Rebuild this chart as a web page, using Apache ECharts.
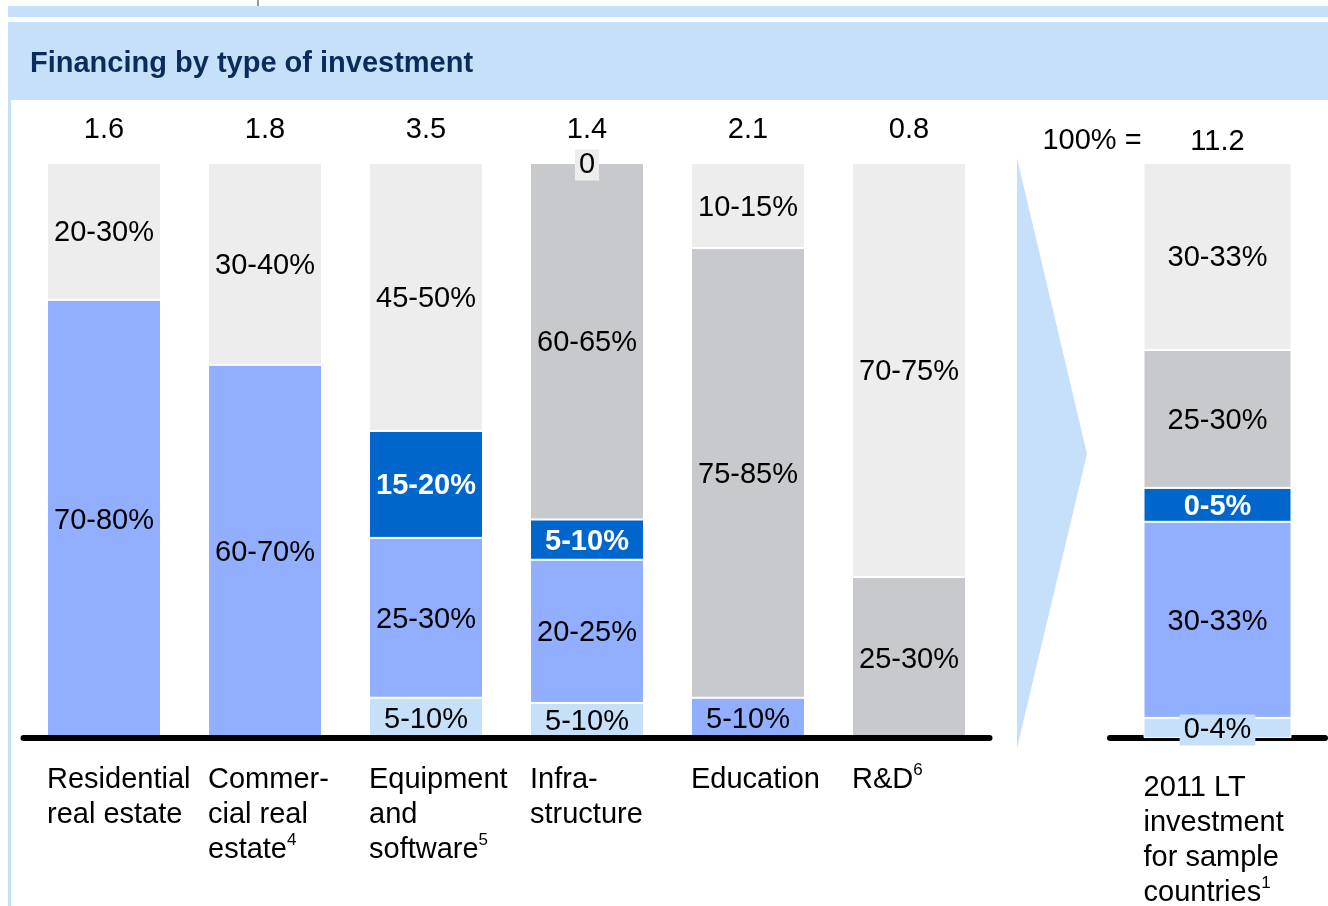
<!DOCTYPE html>
<html>
<head>
<meta charset="utf-8">
<script src="https://cdn.jsdelivr.net/npm/echarts@6/dist/echarts.min.js"></script>
<style>
  html, body { margin: 0; padding: 0; background: #fff; }
  #main { width: 1328px; height: 906px; }
</style>
</head>
<body>
<div id="main"></div>
<script>
// categories + totals (bn), shares in % of each bar
const categories = ['Residential\nreal estate', 'Commer-\ncial real\nestate{s|4}', 'Equipment\nand\nsoftware{s|5}', 'Infra-\nstructure', 'Education', 'R&D{s|6}'];
const totals = ['1.6', '1.8', '3.5', '1.4', '2.1', '0.8'];

const lightBlue = [null, null, 7.0, 6.1, null, null];
const medBlue = [76.2, 64.9, 27.8, 24.9, 7.0, null];
const darkBlue = [null, null, 18.6, 7.0, null, null];
const gray = [null, null, null, 62.0, 78.2, 28.0];
const lightGray = [23.8, 35.1, 46.6, 0, 14.8, 72.0];

const lightBlueLbl = ['', '', '5-10%', '5-10%', '', ''];
const medBlueLbl = ['70-80%', '60-70%', '25-30%', '20-25%', '5-10%', ''];
const darkBlueLbl = ['', '', '15-20%', '5-10%', '', ''];
const grayLbl = ['', '', '', '60-65%', '75-85%', '25-30%'];
const lightGrayLbl = ['20-30%', '30-40%', '45-50%', '0', '10-15%', '70-75%'];

// total bar on the right
const totalCategory = ['2011 LT\ninvestment\nfor sample\ncountries{s|1}'];
const totalValue = ['11.2'];
const totLightBlue = [3.5];
const totMedBlue = [34.1];
const totDarkBlue = [5.9];
const totGray = [24.0];
const totLightGray = [32.5];
const totLightBlueLbl = ['0-4%'];
const totMedBlueLbl = ['30-33%'];
const totDarkBlueLbl = ['0-5%'];
const totGrayLbl = ['25-30%'];
const totLightGrayLbl = ['30-33%'];

const FONT = 'Liberation Sans';
const C = {
  lightBlue: '#c6e0fa',
  medBlue: '#91affe',
  darkBlue: '#0066cc',
  gray: '#c8c9cd',
  lightGray: '#ededed'
};

function seg(data, lbls, color, g, bold, bg, z) {
  return {
    type: 'bar',
    xAxisIndex: g * 2,
    yAxisIndex: g,
    stack: 's' + g,
    z: z || 2,
    barWidth: g === 0 ? 114 : 148,
    data: data,
    itemStyle: { color: color, borderColor: '#fff', borderWidth: 1 },
    label: {
      show: true,
      position: 'inside',
      offset: [0, 2],
      formatter: p => lbls[p.dataIndex],
      fontFamily: FONT,
      fontSize: 29,
      fontWeight: bold ? 'bold' : 'normal',
      color: bold ? '#fff' : '#000',
      backgroundColor: bg ? color : 'transparent',
      padding: bg ? [2, 4, 0, 4] : 0
    }
  };
}

const chart = echarts.init(document.getElementById('main'));

const axisBottom = (gi) => ({
  type: 'category',
  gridIndex: gi,
  data: gi === 0 ? categories : totalCategory,
  position: 'bottom',
  z: 3,
  axisLine: { lineStyle: { color: '#000', width: 6, cap: 'round' } },
  axisTick: { show: false },
  axisLabel: { show: false }
});
const axisTop = (gi, m) => ({
  type: 'category',
  gridIndex: gi,
  data: gi === 0 ? totals : totalValue,
  position: 'top',
  axisLine: { show: false },
  axisTick: { show: false },
  axisLabel: { margin: m, fontFamily: FONT, fontSize: 29, color: '#000' }
});

chart.setOption({
  animation: false,
  backgroundColor: '#fff',
  grid: [
    { left: 23.5, right: 338.5, top: 163, bottom: 168 },
    { left: 1110, right: 3, top: 163, bottom: 168 }
  ],
  xAxis: [axisBottom(0), axisTop(0, 19), axisBottom(1), axisTop(1, 7)],
  yAxis: [
    { type: 'value', gridIndex: 0, min: 0, max: 100, show: false },
    { type: 'value', gridIndex: 1, min: 0, max: 100, show: false }
  ],
  series: [
    seg(lightBlue, lightBlueLbl, C.lightBlue, 0, false, true),
    seg(medBlue, medBlueLbl, C.medBlue, 0, false, false),
    seg(darkBlue, darkBlueLbl, C.darkBlue, 0, true, false),
    seg(gray, grayLbl, C.gray, 0, false, false),
    seg(lightGray, lightGrayLbl, C.lightGray, 0, false, true),
    seg(totLightBlue, totLightBlueLbl, C.lightBlue, 1, false, true, 4),
    seg(totMedBlue, totMedBlueLbl, C.medBlue, 1, false, false),
    seg(totDarkBlue, totDarkBlueLbl, C.darkBlue, 1, true, false),
    seg(totGray, totGrayLbl, C.gray, 1, false, false),
    seg(totLightGray, totLightGrayLbl, C.lightGray, 1, false, false)
  ]
});

// category labels, left aligned on each bar's left edge
const sup = { s: { fontFamily: FONT, fontSize: 17, verticalAlign: 'top', lineHeight: 35, color: '#000' } };
const graphics = [
  { type: 'rect', shape: { x: 8, y: 6, width: 1320, height: 11 }, style: { fill: C.lightBlue } },
  { type: 'rect', shape: { x: 257, y: 0, width: 2, height: 6 }, style: { fill: '#999' } },
  { type: 'rect', shape: { x: 8, y: 22, width: 1320, height: 78 }, style: { fill: C.lightBlue } },
  { type: 'rect', shape: { x: 8, y: 100, width: 3, height: 806 }, style: { fill: C.lightBlue } },
  { type: 'text', x: 30, y: 64, style: { text: 'Financing by type of investment', fontFamily: FONT, fontSize: 29, fontWeight: 'bold', fill: '#0b2b5c', verticalAlign: 'middle' } },
  { type: 'polygon', shape: { points: [[1017, 158], [1087, 454], [1017, 748]] }, style: { fill: C.lightBlue } },
  { type: 'text', x: 1092, y: 141, style: { text: '100% =', fontFamily: FONT, fontSize: 29, fill: '#000', align: 'center', verticalAlign: 'middle' } }
];
categories.forEach((c, i) => {
  const x = chart.convertToPixel({ xAxisIndex: 0 }, i) - 57;
  graphics.push({ type: 'text', x: x, y: 762, style: { text: c, fontFamily: FONT, fontSize: 29, lineHeight: 35, fill: '#000', rich: sup } });
});
totalCategory.forEach((c, i) => {
  const x = chart.convertToPixel({ xAxisIndex: 2 }, i) - 74;
  graphics.push({ type: 'text', x: x, y: 770, style: { text: c, fontFamily: FONT, fontSize: 29, lineHeight: 35, fill: '#000', rich: sup } });
});
chart.setOption({ graphic: graphics });
</script>
</body>
</html>
